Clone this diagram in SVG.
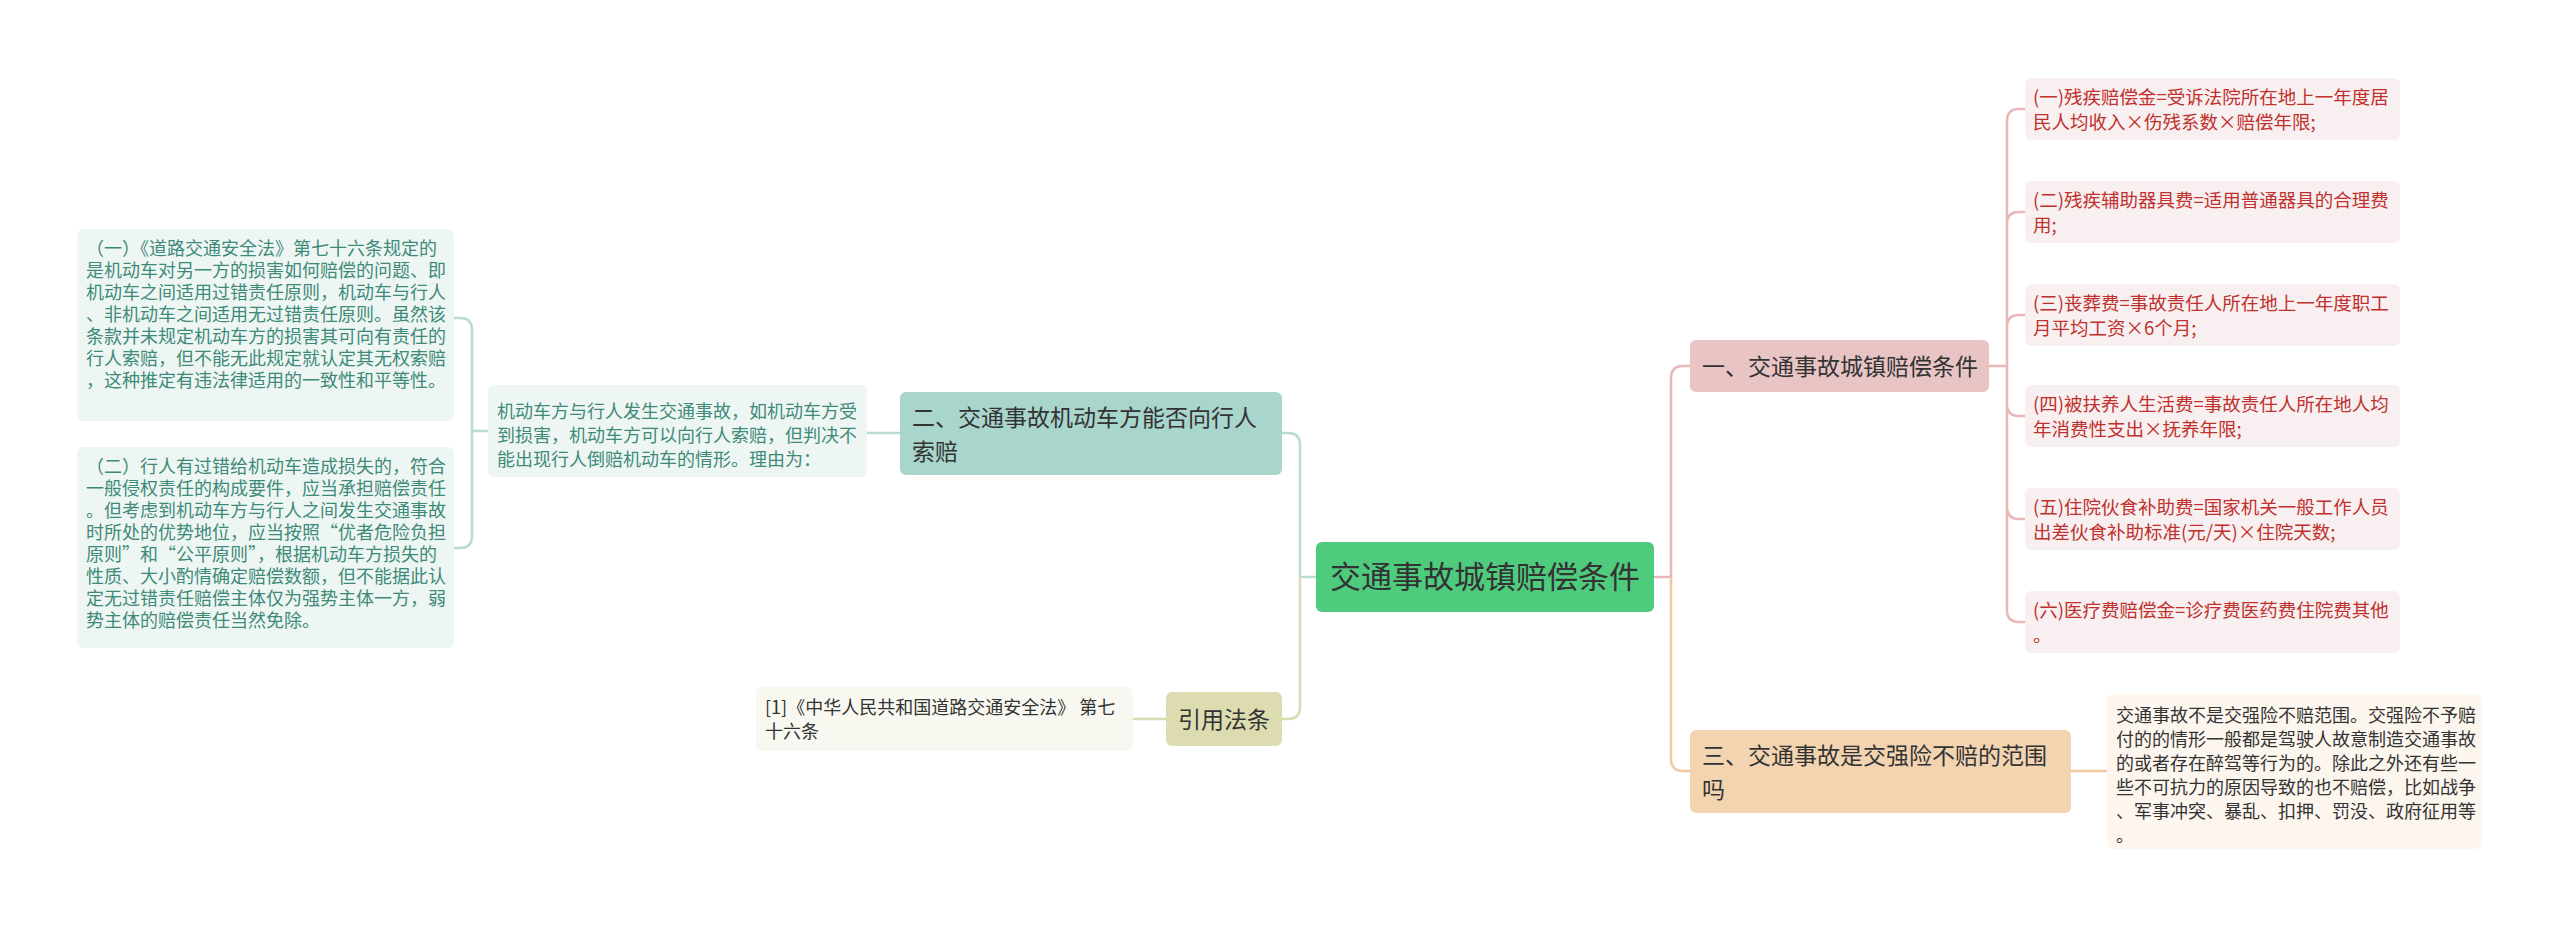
<svg xmlns="http://www.w3.org/2000/svg" width="2560" height="928" viewBox="0 0 2560 928">
<style>
text{font-family:"Noto Sans CJK SC","Noto Sans",sans-serif;}
.l{font-size:18px;}
.red{fill:#c0302e;font-size:18.5px;}
.teal{fill:#3e8a78;}
.dk{fill:#333;}
.c{fill:none;stroke-width:2.5;}
</style>
<rect width="2560" height="928" fill="#fff"/>
<g id="connectors">
<path class="c" stroke="#b8dcd0" d="M1316 577 H1300 V445 Q1300 433 1288 433 H1282"/>
<path class="c" stroke="#d8dcb0" d="M1300 577 V707 Q1300 719 1288 719 H1282"/>
<path class="c" stroke="#e8b8b8" d="M1654 577 H1671 V378 Q1671 366 1683 366 H1690"/>
<path class="c" stroke="#f0c8a0" d="M1671 577 V759 Q1671 771 1683 771 H1690"/>
<path class="c" stroke="#f0c8a0" d="M2071 771 H2107"/>
<path class="c" stroke="#e8b8b8" d="M1989 366 H2007 M2007 121 V610 M2007 121 Q2007 109 2019 109 H2025 M2007 224 Q2007 212 2019 212 H2025 M2007 327 Q2007 315 2019 315 H2025 M2007 404 Q2007 416 2019 416 H2025 M2007 507 Q2007 519 2019 519 H2025 M2007 610 Q2007 622 2019 622 H2025"/>
<path class="c" stroke="#b8dcd0" d="M900 433 H867"/>
<path class="c" stroke="#b8dcd0" d="M488 431 H472 M472 330 V536 Q472 548 460 548 H454 M472 330 Q472 318 460 318 H454"/>
<path class="c" stroke="#d8dcb0" d="M1166 719 H1133"/>
</g>
<g id="center"><rect x="1316" y="542" width="338" height="70" rx="6" fill="#4ecb7d"/><text x="1485" y="588" font-size="31" text-anchor="middle" fill="#333">交通事故城镇赔偿条件</text></g>
<g id="n1"><rect x="1690" y="340" width="299" height="52" rx="6" fill="#e8c4c4"/><text x="1702" y="375" font-size="23" fill="#333">一、交通事故城镇赔偿条件</text></g>
<g id="n3"><rect x="1690" y="730" width="381" height="83" rx="6" fill="#f2d4b0"/><text font-size="23" fill="#333"><tspan x="1702" y="764">三、交通事故是交强险不赔的范围</tspan><tspan x="1702" y="798">吗</tspan></text></g>
<g id="r1"><rect x="2025" y="78" width="375" height="62" rx="6" fill="#f8f0f0"/><text class="red"><tspan x="2033" y="104">(一)残疾赔偿金=受诉法院所在地上一年度居</tspan><tspan x="2033" y="129">民人均收入×伤残系数×赔偿年限;</tspan></text></g>
<g id="r2"><rect x="2025" y="181" width="375" height="62" rx="6" fill="#f8f0f0"/><text class="red"><tspan x="2033" y="207">(二)残疾辅助器具费=适用普通器具的合理费</tspan><tspan x="2033" y="232">用;</tspan></text></g>
<g id="r3"><rect x="2025" y="284" width="375" height="62" rx="6" fill="#f8f0f0"/><text class="red"><tspan x="2033" y="310">(三)丧葬费=事故责任人所在地上一年度职工</tspan><tspan x="2033" y="335">月平均工资×6个月;</tspan></text></g>
<g id="r4"><rect x="2025" y="385" width="375" height="62" rx="6" fill="#f8f0f0"/><text class="red"><tspan x="2033" y="411">(四)被扶养人生活费=事故责任人所在地人均</tspan><tspan x="2033" y="436">年消费性支出×抚养年限;</tspan></text></g>
<g id="r5"><rect x="2025" y="488" width="375" height="62" rx="6" fill="#f8f0f0"/><text class="red"><tspan x="2033" y="514">(五)住院伙食补助费=国家机关一般工作人员</tspan><tspan x="2033" y="539">出差伙食补助标准(元/天)×住院天数;</tspan></text></g>
<g id="r6"><rect x="2025" y="591" width="375" height="62" rx="6" fill="#f8f0f0"/><text class="red"><tspan x="2033" y="617">(六)医疗费赔偿金=诊疗费医药费住院费其他</tspan><tspan x="2033" y="642">。</tspan></text></g>
<g id="n3leaf"><rect x="2107" y="694" width="375" height="155" rx="6" fill="#fdf6ee"/><text class="l dk"><tspan x="2116" y="722">交通事故不是交强险不赔范围。交强险不予赔</tspan><tspan x="2116" y="746">付的的情形一般都是驾驶人故意制造交通事故</tspan><tspan x="2116" y="770">的或者存在醉驾等行为的。除此之外还有些一</tspan><tspan x="2116" y="794">些不可抗力的原因导致的也不赔偿，比如战争</tspan><tspan x="2116" y="818">、军事冲突、暴乱、扣押、罚没、政府征用等</tspan><tspan x="2116" y="842">。</tspan></text></g>
<g id="n2"><rect x="900" y="392" width="382" height="83" rx="6" fill="#a8d5cc"/><text font-size="23" fill="#333"><tspan x="912" y="426">二、交通事故机动车方能否向行人</tspan><tspan x="912" y="460">索赔</tspan></text></g>
<g id="n2leaf"><rect x="488" y="385" width="379" height="92" rx="6" fill="#eef6f4"/><text class="l teal"><tspan x="497" y="418">机动车方与行人发生交通事故，如机动车方受</tspan><tspan x="497" y="442">到损害，机动车方可以向行人索赔，但判决不</tspan><tspan x="497" y="466">能出现行人倒赔机动车的情形。理由为：</tspan></text></g>
<g id="left1"><rect x="77" y="229" width="377" height="192" rx="6" fill="#eef6f4"/><text class="l teal"><tspan x="86" y="255">  （一）《道路交通安全法》第七十六条规定的</tspan><tspan x="86" y="277">是机动车对另一方的损害如何赔偿的问题、即</tspan><tspan x="86" y="299">机动车之间适用过错责任原则，机动车与行人</tspan><tspan x="86" y="321">、非机动车之间适用无过错责任原则。虽然该</tspan><tspan x="86" y="343">条款并未规定机动车方的损害其可向有责任的</tspan><tspan x="86" y="365">行人索赔，但不能无此规定就认定其无权索赔</tspan><tspan x="86" y="387">，这种推定有违法律适用的一致性和平等性。</tspan></text></g>
<g id="left2"><rect x="77" y="447" width="377" height="201" rx="6" fill="#eef6f4"/><text class="l teal"><tspan x="86" y="473">  （二）行人有过错给机动车造成损失的，符合</tspan><tspan x="86" y="495">一般侵权责任的构成要件，应当承担赔偿责任</tspan><tspan x="86" y="517">。但考虑到机动车方与行人之间发生交通事故</tspan><tspan x="86" y="539">时所处的优势地位，应当按照“优者危险负担</tspan><tspan x="86" y="561">原则”和“公平原则”，根据机动车方损失的</tspan><tspan x="86" y="583">性质、大小酌情确定赔偿数额，但不能据此认</tspan><tspan x="86" y="605">定无过错责任赔偿主体仅为强势主体一方，弱</tspan><tspan x="86" y="627">势主体的赔偿责任当然免除。</tspan></text></g>
<g id="ref"><rect x="1166" y="692" width="116" height="54" rx="6" fill="#dcdcb0"/><text x="1224" y="728" font-size="23" text-anchor="middle" fill="#333">引用法条</text></g>
<g id="refleaf"><rect x="756" y="687" width="377" height="64" rx="6" fill="#f8f8f0"/><text class="l dk"><tspan x="765" y="714">[1]《中华人民共和国道路交通安全法》 第七</tspan><tspan x="765" y="738">十六条</tspan></text></g>
</svg>
